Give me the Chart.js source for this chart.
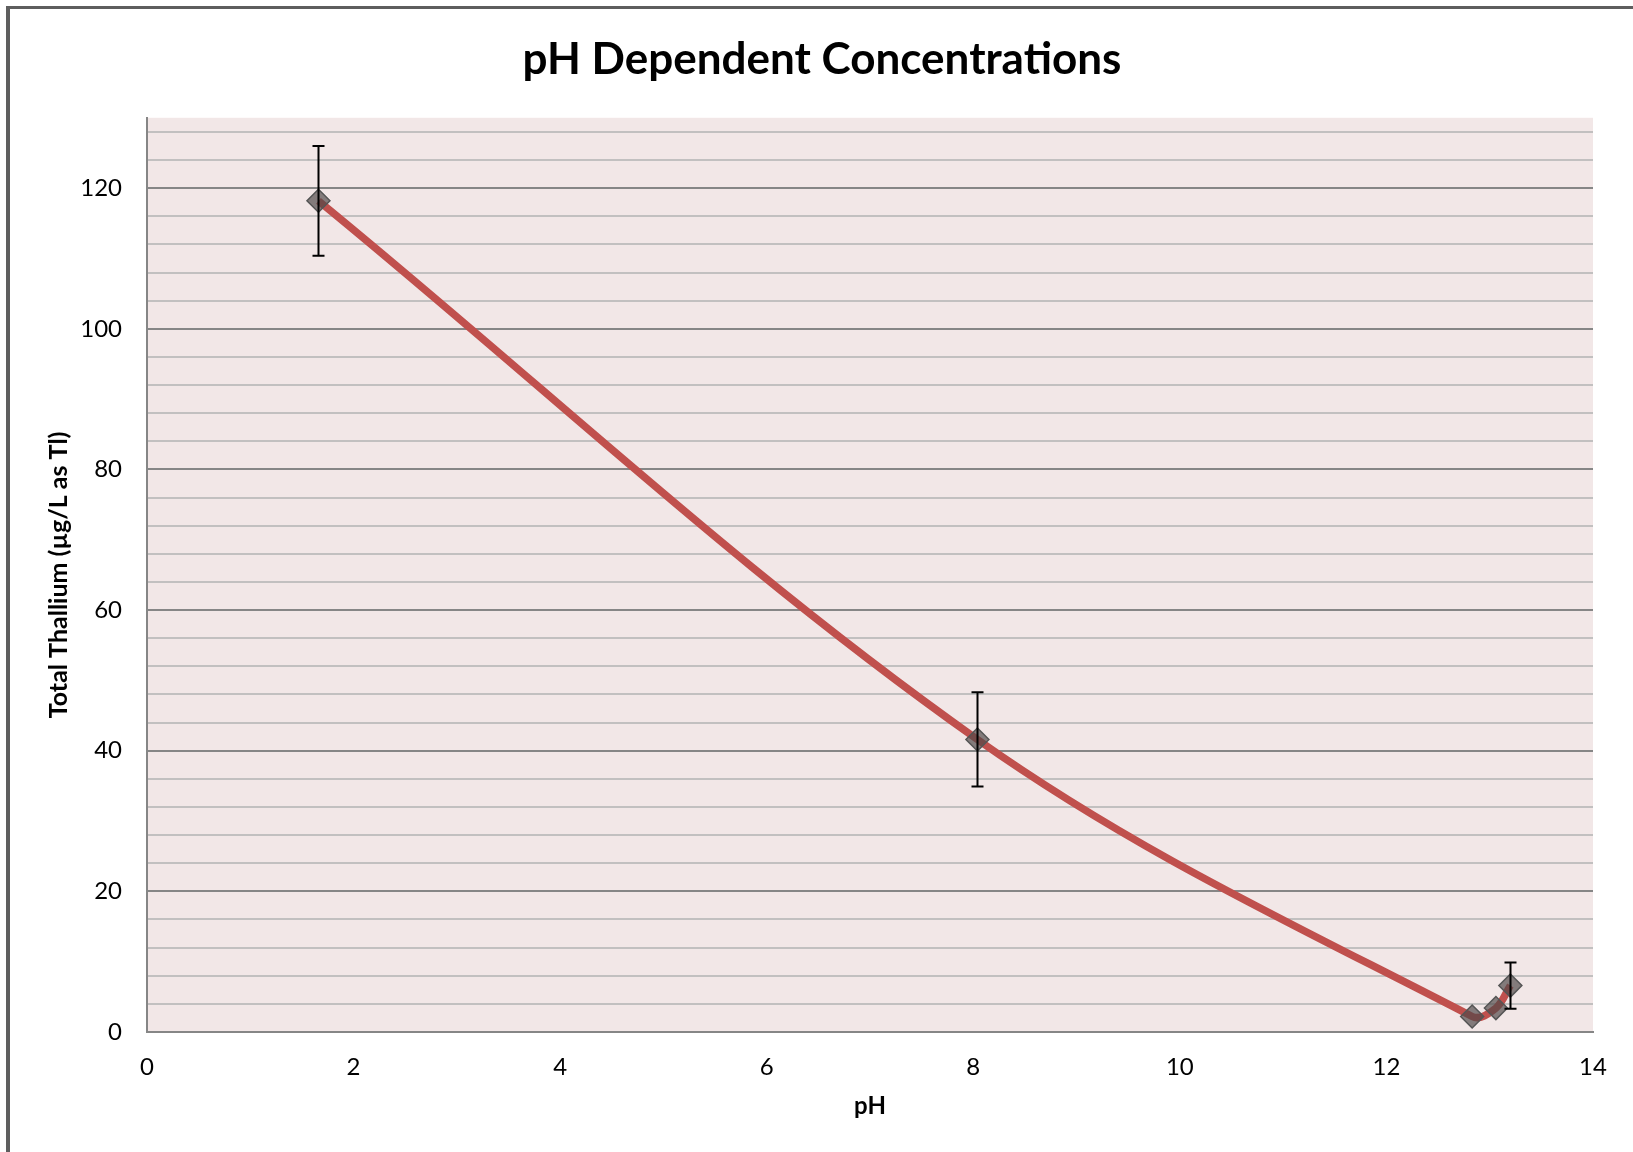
<!DOCTYPE html>
<html>
<head>
<meta charset="utf-8">
<title>pH Dependent Concentrations</title>
<script src="https://cdn.jsdelivr.net/npm/chart.js@4.4.0/dist/chart.umd.min.js"></script>
<style>
  html, body { margin: 0; padding: 0; background: #ffffff; overflow: hidden; }
  #wrap { position: relative; width: 1633px; height: 1152px; }
</style>
</head>
<body>
<div id="wrap"><canvas id="c" width="1633" height="1152"></canvas></div>
<script>
// ---- Data ----
const phValues   = [1.66, 8.04, 12.83, 13.06, 13.20];
const thallium   = [118.2, 41.6, 2.2, 3.4, 6.6];
const errorSizes = [7.8, 6.7, 0, 0, 3.3];

const chartTitle = 'pH Dependent Concentrations';
const xTitle = 'pH';
const yTitle = 'Total Thallium (\u00b5g/L as Tl)';
const xTickLabels = ['0', '2', '4', '6', '8', '10', '12', '14'];
const yTickLabels = ['0', '20', '40', '60', '80', '100', '120'];

const FONT = "Lato, 'Open Sans', 'DejaVu Sans', sans-serif";

const points = phValues.map((x, i) => ({ x: x, y: thallium[i] }));

const frameAndBackground = {
  id: 'frameAndBackground',
  beforeDraw(chart) {
    const ctx = chart.ctx;
    const a = chart.chartArea;
    ctx.save();
    ctx.fillStyle = '#ffffff';
    ctx.fillRect(0, 0, chart.width, chart.height);
    // outer chart border (top and left visible)
    ctx.fillStyle = '#5e5e5e';
    ctx.fillRect(6, 6, chart.width, 3);
    ctx.fillRect(6, 6, 4, chart.height);
    // plot area background
    ctx.fillStyle = '#f2e7e7';
    ctx.fillRect(a.left, a.top, a.right - a.left, a.bottom - a.top);
    ctx.restore();
  }
};

const errorBars = {
  id: 'errorBars',
  afterDatasetsDraw(chart) {
    const ctx = chart.ctx;
    const xs = chart.scales.x, ys = chart.scales.y;
    ctx.save();
    ctx.strokeStyle = '#000000';
    ctx.lineWidth = 2;
    phValues.forEach((px, i) => {
      const e = errorSizes[i];
      if (!e) return;
      const x = Math.round(xs.getPixelForValue(px)) + 0.5;
      const yTop = ys.getPixelForValue(thallium[i] + e);
      const yBot = ys.getPixelForValue(thallium[i] - e);
      const cap = 6;
      ctx.beginPath();
      ctx.moveTo(x, yTop); ctx.lineTo(x, yBot);
      ctx.moveTo(x - cap, yTop); ctx.lineTo(x + cap, yTop);
      ctx.moveTo(x - cap, yBot); ctx.lineTo(x + cap, yBot);
      ctx.stroke();
    });
    ctx.restore();
  }
};

new Chart(document.getElementById('c'), {
  type: 'scatter',
  data: {
    datasets: [{
      data: points,
      showLine: true,
      borderColor: '#c0504d',
      borderWidth: 7.5,
      tension: 0.35,
      pointStyle: 'rectRot',
      pointRadius: 11.5,
      pointHoverRadius: 11.5,
      pointBackgroundColor: 'rgba(78,72,72,0.68)',
      pointBorderColor: '#555555',
      pointBorderWidth: 1.5
    }]
  },
  options: {
    responsive: false,
    animation: false,
    layout: { padding: { left: 51, right: 40, top: 0, bottom: 0 } },
    plugins: {
      legend: { display: false },
      tooltip: { enabled: false },
      title: {
        display: true,
        text: chartTitle,
        color: '#000000',
        font: { family: FONT, size: 44, weight: 'bold', lineHeight: 1.2 },
        padding: { top: 33, bottom: 32 }
      }
    },
    scales: {
      x: {
        type: 'linear',
        min: 0, max: 14,
        afterFit(scale) { scale.height = 120; },
        grid: { display: false, drawTicks: false },
        border: { display: true, color: '#868686', width: 2 },
        ticks: {
          stepSize: 2,
          autoSkip: false,
          maxRotation: 0,
          padding: 21,
          color: '#000000',
          font: { family: FONT, size: 24 },
          callback: (v) => xTickLabels.includes(String(v)) ? String(v) : ''
        },
        title: {
          display: true,
          text: xTitle,
          color: '#000000',
          font: { family: FONT, size: 24, weight: 'bold', lineHeight: 1.2 },
          padding: { top: 0, bottom: 31 }
        }
      },
      y: {
        type: 'linear',
        min: 0, max: 130,
        afterFit(scale) { scale.width = 96; },
        grid: {
          drawTicks: false,
          color: (c) => (c.tick && c.tick.value % 20 === 0) ? '#868686' : '#c2c0c0',
          lineWidth: 2
        },
        border: { display: true, color: '#868686', width: 2 },
        ticks: {
          stepSize: 4,
          autoSkip: false,
          includeBounds: false,
          padding: 25,
          color: '#000000',
          font: { family: FONT, size: 24 },
          callback: (v) => yTickLabels.includes(String(v)) ? String(v) : ''
        },
        title: {
          display: true,
          text: yTitle,
          color: '#000000',
          font: { family: FONT, size: 25, weight: 'bold', lineHeight: 1.2 },
          padding: { top: -7, bottom: 0 }
        }
      }
    }
  },
  plugins: [frameAndBackground, errorBars]
});
</script>
</body>
</html>
